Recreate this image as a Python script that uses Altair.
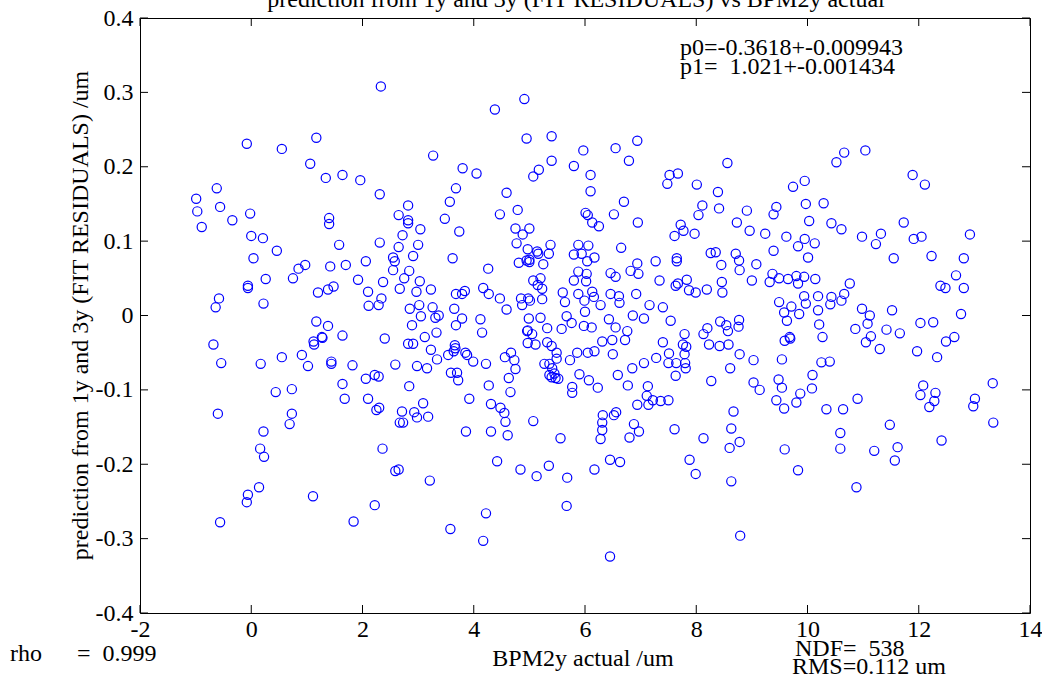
import altair as alt
import pandas as pd

# ---- tick labels ----
x_ticks = [-2, 0, 2, 4, 6, 8, 10, 12, 14]
y_ticks = [-0.4, -0.3, -0.2, -0.1, 0.0, 0.1, 0.2, 0.3, 0.4]

# ---- data (BPM2y actual /um , residual /um) ----
x_g1 = [-0.99, -0.97, -0.89, -0.62, -0.56, -0.34, -0.68, -0.64, -0.58, -0.54, -0.60, -0.56, -0.08, -0.02, -0.06, -0.06, -0.08, -0.06,
        0.55, 1.17, 1.06, 1.34, 1.64, 1.96, 0.00, 0.21, 1.40, 1.40, 1.58, 0.46,
        0.04, 2.06, 0.97, 0.85, 1.42, 1.70, 0.75, 0.26, 1.92, 2.10,
        1.38, 1.48, 1.20, 0.22, 2.11, 1.17, 1.38, 1.64, 1.27, 1.12,
        0.17, 0.55, 0.91, 1.02, 1.13, 1.28, 1.44, 1.44, 1.82, 2.06,
        1.64, 1.68, 2.10, 0.44, 0.73, 0.73, 0.69, 0.22, 0.16, 0.23,
        0.14, 1.11, 1.84]
y_g1 = [0.157, 0.140, 0.119, 0.171, 0.146, 0.128, -0.039, 0.011, 0.023, -0.064, -0.132, -0.278, 0.231, 0.137, 0.040, 0.037, -0.251, -0.241,
        0.224, 0.239, 0.204, 0.185, 0.189, 0.182, 0.107, 0.104, 0.131, 0.123, 0.095, 0.087,
        0.077, 0.073, 0.068, 0.063, 0.066, 0.068, 0.050, 0.049, 0.048, 0.032,
        0.035, 0.039, 0.031, 0.016, 0.013, -0.008, -0.014, -0.027, -0.029, -0.035,
        -0.065, -0.056, -0.053, -0.068, -0.039, -0.030, -0.062, -0.065, -0.067, -0.085,
        -0.092, -0.112, -0.112, -0.103, -0.099, -0.132, -0.146, -0.156, -0.179, -0.190,
        -0.231, -0.243, -0.277]

x_g2 = [2.33, 4.38, 4.91, 4.95, 5.40, 3.27, 5.40, 5.97, 3.80, 4.05,
        5.17, 5.07, 5.80, 6.10, 3.68, 3.57, 2.31, 4.59, 6.10, 2.82,
        2.65, 2.82, 2.82, 3.48, 3.04, 2.72, 3.74, 4.47, 4.79, 6.01,
        6.05, 4.75, 5.00, 4.88, 2.31, 2.65, 3.00, 4.77, 5.38, 5.88,
        2.91, 3.62, 2.55, 2.58, 4.97, 5.14, 5.35, 5.16, 5.80, 5.94,
        6.04, 4.81, 4.95, 5.00, 5.00, 5.25, 2.55, 2.84, 2.75, 4.26,
        5.88, 6.03, 2.37, 3.03, 5.07, 5.20, 5.15, 5.23, 5.80, 6.02,
        2.67, 2.97, 3.23, 3.68, 3.84, 3.79, 4.17, 4.27, 4.47, 5.60,
        5.88, 2.34, 2.29, 2.85, 3.02, 3.26, 3.65, 4.85, 4.98,
        5.01, 4.87, 5.23, 5.64, 5.99, 4.59, 3.05, 3.31, 3.37, 2.89,
        3.79, 3.68, 4.12, 4.15, 4.99, 5.20, 5.67, 5.76, 6.00, 5.98,
        4.97, 5.05, 5.32, 5.58, 3.33, 3.12, 2.40]
y_g2 = [0.308, 0.277, 0.291, 0.238, 0.241, 0.215, 0.208, 0.222, 0.198, 0.191,
        0.196, 0.187, 0.201, 0.189, 0.171, 0.153, 0.163, 0.165, 0.167, 0.148,
        0.135, 0.128, 0.124, 0.130, 0.116, 0.108, 0.113, 0.136, 0.142, 0.138,
        0.135, 0.117, 0.117, 0.109, 0.098, 0.092, 0.095, 0.097, 0.095, 0.095,
        0.080, 0.077, 0.078, 0.073, 0.089, 0.086, 0.083, 0.083, 0.082, 0.083,
        0.073, 0.071, 0.074, 0.072, 0.075, 0.069, 0.061, 0.060, 0.050, 0.063,
        0.059, 0.056, 0.045, 0.046, 0.047, 0.050, 0.041, 0.036, 0.047, 0.046,
        0.036, 0.032, 0.035, 0.029, 0.033, 0.029, 0.037, 0.029, 0.023, 0.031,
        0.029, 0.023, 0.014, 0.009, 0.014, 0.011, 0.009, 0.023, 0.023,
        0.020, 0.014, 0.022, 0.018, 0.020, 0.008, -0.001, -0.003, 0.000, -0.013,
        -0.004, -0.013, -0.005, -0.023, -0.004, -0.003, -0.001, -0.010, 0.005, -0.014,
        -0.020, -0.025, -0.017, -0.018, -0.023, -0.029, -0.031]

x_g3 = [2.82, 2.91, 3.23, 3.34, 3.54, 3.66, 3.67, 3.64, 3.85, 3.88,
        3.99, 4.22, 2.59, 2.98, 3.16, 2.22, 2.29, 2.84, 3.59, 3.70,
        3.72, 4.27, 2.25, 2.30, 2.71, 2.67, 2.73, 2.93, 2.98, 3.09,
        3.18, 3.92, 3.86, 4.31, 4.31, 4.48, 4.55, 4.57, 4.61, 5.07,
        5.56, 2.36, 2.59, 2.65, 3.21, 4.42, 4.84, 5.13, 5.35, 5.68,
        5.67, 2.22, 4.22, 3.58, 4.17, 4.67, 4.56, 4.73, 4.75, 4.63,
        4.66, 4.96, 4.97, 5.11, 5.32, 5.40, 5.49, 5.49, 5.27, 5.36,
        5.41, 5.36, 5.40, 5.47, 5.52, 5.45, 5.73, 5.86, 5.90, 6.07,
        6.05, 5.77, 5.77]
y_g3 = [-0.038, -0.038, -0.046, -0.059, -0.053, -0.040, -0.044, -0.048, -0.050, -0.053,
        -0.062, -0.065, -0.066, -0.068, -0.071, -0.080, -0.082, -0.095, -0.077, -0.077,
        -0.087, -0.094, -0.127, -0.124, -0.129, -0.144, -0.144, -0.130, -0.137, -0.118,
        -0.136, -0.112, -0.156, -0.119, -0.156, -0.124, -0.131, -0.143, -0.161, -0.142,
        -0.165, -0.179, -0.209, -0.207, -0.222, -0.196, -0.207, -0.216, -0.202, -0.218,
        -0.256, -0.255, -0.266, -0.287, -0.303, -0.050, -0.056, -0.060, -0.072, -0.084,
        -0.103, -0.021, -0.037, -0.039, -0.036, -0.041, -0.050, -0.058, -0.065, -0.065,
        -0.071, -0.080, -0.083, -0.084, -0.085, -0.078, -0.060, -0.050, -0.079, -0.087,
        -0.050, -0.096, -0.104]

x_g4 = [6.94, 6.55, 6.79, 8.56, 7.52, 7.67, 7.48, 8.01, 8.39, 9.74,
        9.95, 6.70, 8.11, 8.41, 8.04, 6.52, 6.13, 6.25, 6.95, 8.91,
        9.44, 9.39, 9.97, 7.72, 7.77, 7.97, 7.61, 8.73, 8.96, 9.24,
        9.62, 10.03, 9.95, 9.83, 6.65, 6.17, 9.39, 8.26, 8.35, 8.71,
        8.77, 8.78, 8.45, 9.08, 7.27, 7.65, 7.65, 6.94, 6.82, 6.96,
        6.46, 6.55, 7.34, 7.63, 7.67, 7.83, 7.87, 7.99, 8.19, 8.46,
        8.47, 9.00, 9.37, 9.49, 9.65, 9.32, 9.80, 9.83, 9.94, 6.16,
        6.28, 6.46, 6.61, 6.62, 6.92, 7.16, 7.40, 6.12, 6.43, 6.55,
        6.76, 6.86, 7.06, 7.54, 7.79, 8.20, 8.13, 8.43, 8.54, 8.57,
        8.77, 8.76, 9.49, 9.71, 9.94, 9.58, 9.85, 9.63, 9.68, 6.06, 6.13]
y_g4 = [0.235, 0.225, 0.208, 0.205, 0.189, 0.191, 0.177, 0.176, 0.166, 0.173,
        0.181, 0.153, 0.148, 0.144, 0.135, 0.136, 0.125, 0.120, 0.125, 0.141,
        0.146, 0.136, 0.150, 0.122, 0.114, 0.110, 0.107, 0.125, 0.114, 0.110,
        0.106, 0.127, 0.103, 0.093, 0.091, 0.078, 0.087, 0.084, 0.085, 0.083,
        0.074, 0.061, 0.068, 0.069, 0.073, 0.077, 0.073, 0.070, 0.060, 0.056,
        0.057, 0.052, 0.047, 0.040, 0.043, 0.048, 0.034, 0.031, 0.035, 0.045,
        0.031, 0.047, 0.056, 0.050, 0.049, 0.045, 0.053, 0.043, 0.052, 0.025,
        0.014, 0.029, 0.026, 0.017, 0.029, 0.014, 0.011, -0.016, -0.005, -0.016,
        -0.021, 0.000, -0.004, -0.007, -0.025, -0.017, -0.025, -0.008, -0.013, -0.021,
        -0.006, -0.015, 0.018, 0.012, 0.026, 0.004, 0.002, -0.007, -0.029, 0.094, 0.032]

x_g5 = [6.49, 6.72, 6.31, 6.17, 6.50, 6.23, 6.59, 6.77, 6.85, 7.06,
        7.28, 7.40, 7.51, 7.50, 7.64, 7.76, 7.82, 7.79, 7.80, 7.81,
        7.63, 7.13, 7.11, 7.14, 7.22, 7.36, 7.50, 6.94, 8.23, 8.42,
        8.58, 8.27, 8.61, 8.78, 9.03, 9.54, 9.59, 9.69, 9.03, 9.14,
        9.48, 9.54, 9.44, 9.58, 9.80, 9.87, 6.32, 6.31, 6.31, 6.28,
        6.52, 6.56, 6.88, 6.97, 6.80, 7.61, 6.45, 6.63, 6.17, 7.88,
        7.99, 8.13, 8.67, 8.63, 8.78, 8.60, 8.63, 9.59, 9.83, 8.79, 6.45]
y_g5 = [-0.033, -0.033, -0.035, -0.048, -0.052, -0.097, -0.080, -0.094, -0.071, -0.064,
        -0.057, -0.036, -0.051, -0.064, -0.064, -0.039, -0.042, -0.052, -0.064, -0.071,
        -0.081, -0.095, -0.108, -0.120, -0.114, -0.115, -0.114, -0.120, -0.039, -0.041,
        -0.039, -0.088, -0.071, -0.052, -0.060, -0.059, -0.034, -0.031, -0.090, -0.100,
        -0.086, -0.097, -0.114, -0.125, -0.117, -0.105, -0.134, -0.144, -0.154, -0.166,
        -0.134, -0.130, -0.146, -0.156, -0.164, -0.153, -0.194, -0.197, -0.207, -0.194,
        -0.213, -0.165, -0.129, -0.152, -0.170, -0.178, -0.223, -0.180, -0.208, -0.296, -0.324]

x_g6 = [11.04, 10.66, 10.52, 11.89, 12.11, 10.29, 10.43, 10.61, 10.98, 11.32,
        11.23, 11.73, 11.91, 12.05, 12.92, 10.13, 10.01, 11.55, 12.23, 12.81,
        12.67, 12.39, 12.48, 12.81, 10.14, 10.76, 10.66, 10.61, 10.43, 10.41,
        10.19, 10.19, 9.97, 10.98, 11.12, 11.08, 11.52, 10.86, 11.42, 11.66,
        12.03, 12.26, 12.76, 12.64, 12.49, 10.21, 10.27, 11.14, 11.05, 11.30,
        11.97, 12.33, 10.25, 10.40, 10.09, 10.08, 10.34, 10.64, 10.90, 10.59,
        10.59, 10.88, 11.20, 11.48, 11.62, 11.57, 12.08, 12.03, 12.30, 12.28,
        12.19, 12.41, 12.98, 13.01, 13.33, 13.34]
y_g6 = [0.222, 0.219, 0.206, 0.189, 0.176, 0.151, 0.124, 0.116, 0.106, 0.110,
        0.096, 0.125, 0.103, 0.106, 0.109, 0.097, 0.078, 0.077, 0.080, 0.077,
        0.054, 0.040, 0.037, 0.037, 0.049, 0.043, 0.029, 0.020, 0.025, 0.015,
        0.026, 0.007, 0.016, 0.009, 0.000, -0.011, 0.007, -0.018, -0.019, -0.024,
        -0.010, -0.009, 0.002, -0.029, -0.035, -0.012, -0.029, -0.028, -0.036, -0.045,
        -0.048, -0.056, -0.063, -0.062, -0.080, -0.098, -0.126, -0.126, -0.112, -0.158,
        -0.179, -0.231, -0.182, -0.147, -0.177, -0.195, -0.094, -0.107, -0.104, -0.115,
        -0.123, -0.168, -0.122, -0.112, -0.091, -0.144]

xs = x_g1 + x_g2 + x_g3 + x_g4 + x_g5 + x_g6
ys = y_g1 + y_g2 + y_g3 + y_g4 + y_g5 + y_g6
df = pd.DataFrame({"bpm": xs, "res": ys})

# ---- texts ----
title_text = "prediction from 1y and 3y (FIT RESIDUALS) vs BPM2y actual"
ytitle_text = "prediction from 1y and 3y (FIT RESIDUALS) /um"
xtitle_text = "BPM2y actual /um"
p0_text = "p0=-0.3618+-0.009943"
p1_text = "p1=\u00a0\u00a01.021+-0.001434"
rho_label = "rho"
rho_value = "=\u00a0\u00a00.999"
ndf_text = "NDF=\u00a0\u00a0538"
rms_text = "RMS=0.112 um"

W, H = 890, 595
FONT = "Liberation Serif"
FS = 24

xscale = alt.Scale(domain=[-2, 14], nice=False, zero=False)
yscale = alt.Scale(domain=[-0.4, 0.4], nice=False, zero=False)

xaxis = alt.Axis(values=x_ticks, title=None, ticks=False, domain=False, grid=False,
                 labelFont=FONT, labelFontSize=FS, labelColor="black", labelPadding=4,
                 labelFlush=False, labelOverlap=False,
                 labelExpr="datum.value < 0 ? '-' + format(-datum.value, 'd') : format(datum.value, 'd')")
yaxis = alt.Axis(values=y_ticks, title=None, ticks=False, domain=False, grid=False,
                 labelFont=FONT, labelFontSize=FS, labelColor="black", labelPadding=7,
                 labelFlush=False, labelOverlap=False,
                 labelExpr="abs(datum.value) < 1e-9 ? '0' : (datum.value < 0 ? '-' + format(-datum.value, '.1f') : format(datum.value, '.1f'))")

points = alt.Chart(df).mark_point(shape="circle", filled=False, color="#0000ff",
                                  size=85, strokeWidth=1.2, opacity=1).encode(
    x=alt.X("bpm:Q", scale=xscale, axis=xaxis),
    y=alt.Y("res:Q", scale=yscale, axis=yaxis),
)

xt = pd.DataFrame({"t": x_ticks})
yt = pd.DataFrame({"t": y_ticks})
TL = 8
tick_bottom = alt.Chart(xt).mark_rule(color="black", strokeWidth=1).encode(
    x=alt.X("t:Q", scale=xscale, axis=xaxis), y=alt.value(H), y2=alt.value(H - TL))
tick_top = alt.Chart(xt).mark_rule(color="black", strokeWidth=1).encode(
    x=alt.X("t:Q", scale=xscale, axis=xaxis), y=alt.value(0), y2=alt.value(TL))
tick_left = alt.Chart(yt).mark_rule(color="black", strokeWidth=1).encode(
    y=alt.Y("t:Q", scale=yscale, axis=yaxis), x=alt.value(0), x2=alt.value(TL))
tick_right = alt.Chart(yt).mark_rule(color="black", strokeWidth=1).encode(
    y=alt.Y("t:Q", scale=yscale, axis=yaxis), x=alt.value(W), x2=alt.value(W - TL))


def label(text, x, y, align="left", angle=0):
    kw = dict(text=text, font=FONT, fontSize=FS, color="black", align=align,
              baseline="alphabetic")
    if angle:
        kw["angle"] = angle
    return alt.Chart(alt.Data(values=[{}])).mark_text(**kw).encode(
        x=alt.value(x), y=alt.value(y))


texts = [
    label(title_text, 436, -11, align="center"),
    label(p0_text, 540, 37),
    label(p1_text, 540, 56),
    label(ytitle_text, -52, H / 2, align="center", angle=270),
    label(xtitle_text, 443, 648, align="center"),
    label(rho_label, -130, 643),
    label(rho_value, -63, 643),
    label(ndf_text, 655, 638),
    label(rms_text, 652, 656),
]

chart = alt.layer(points, tick_bottom, tick_top, tick_left, tick_right, *texts).properties(
    width=W, height=H,
    autosize=alt.AutoSizeParams(type="none"),
    padding={"left": 140, "top": 18, "right": 12, "bottom": 65},
    background="white",
).configure_view(stroke="black", strokeWidth=1)

chart.save("out.html", embed_options={"renderer": "svg", "actions": False})
